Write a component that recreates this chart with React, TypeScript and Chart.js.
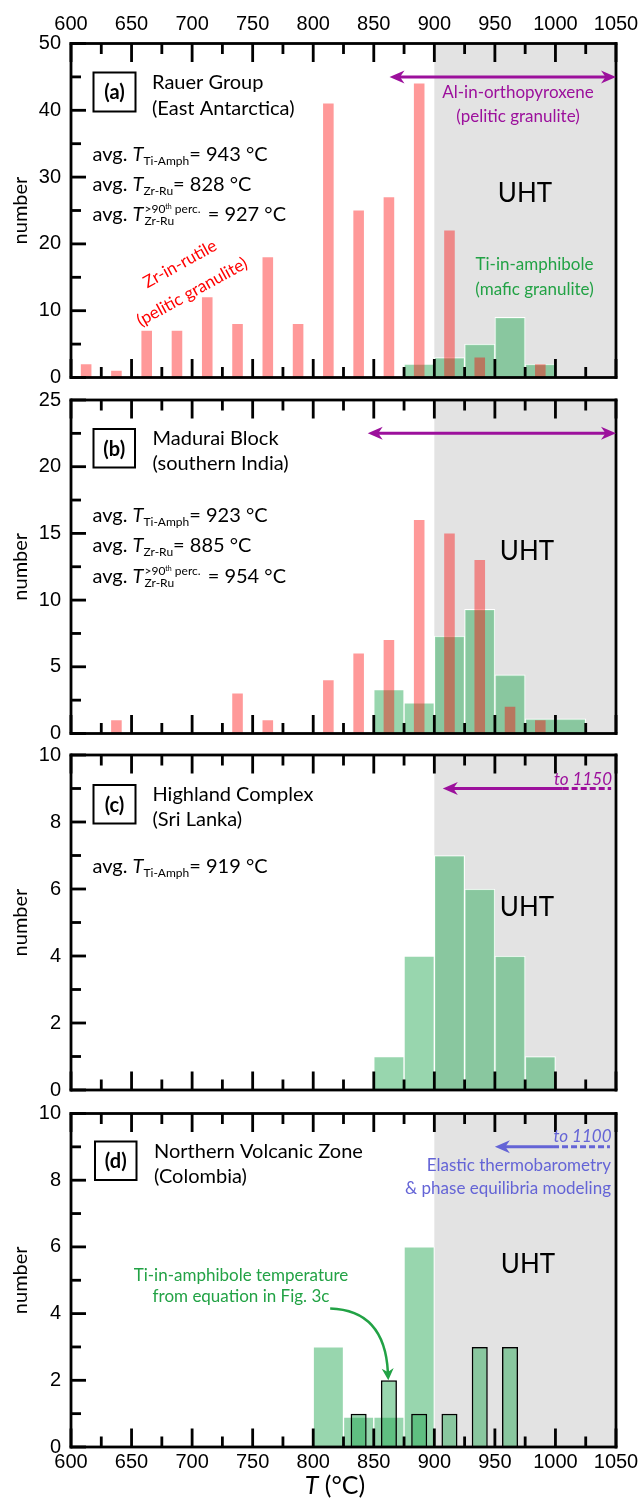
import React, { useEffect, useRef } from 'react';
import { Chart, registerables } from 'chart.js';

Chart.register(...registerables);
Chart.defaults.font.family = '"Liberation Sans", Arial, sans-serif';
Chart.defaults.color = '#000';

// ---------------- shared temperature axis ----------------
const T_MIN = 600;
const T_MAX = 1050;
const T_STEP = 25;
const T_LABEL_STEP = 50;
const UHT_START = 900;

// ---------------- (a) Rauer Group ----------------
const A_ZR_T = [612.5, 637.5, 662.5, 687.5, 712.5, 737.5, 762.5, 787.5, 812.5, 837.5, 862.5, 887.5, 912.5, 937.5, 987.5];
const A_ZR_N = [2, 1, 7, 7, 12, 8, 18, 8, 41, 25, 27, 44, 22, 3, 2];
const A_TI_T = [887.5, 912.5, 937.5, 962.5, 987.5];
const A_TI_N = [2, 3, 5, 9, 2];
const A_OPX_RANGE = [863, 1050];
const A_OPX_LEVEL = 45;
const A_AVG = ['943', '828', '927'];
const A_Y_MAX = 50;
const A_Y_MINOR = 5;
const A_Y_MAJOR = 10;

// ---------------- (b) Madurai Block ----------------
const B_ZR_T = [637.5, 737.5, 762.5, 812.5, 837.5, 862.5, 887.5, 912.5, 937.5, 962.5, 987.5];
const B_ZR_N = [1, 3, 1, 4, 6, 7, 16, 15, 13, 2, 1];
const B_TI_T = [862.5, 887.5, 912.5, 937.5, 962.5, 987.5, 1012.5];
const B_TI_N = [3.3, 2.3, 7.3, 9.3, 4.4, 1.1, 1.1];
const B_OPX_RANGE = [845, 1050];
const B_OPX_LEVEL = 22.5;
const B_AVG = ['923', '885', '954'];
const B_Y_MAX = 25;
const B_Y_MINOR = 2.5;
const B_Y_MAJOR = 5;

// ---------------- (c) Highland Complex ----------------
const C_TI_T = [862.5, 887.5, 912.5, 937.5, 962.5, 987.5];
const C_TI_N = [1, 4, 7, 6, 4, 1];
const C_ARROW = [907, 1006, 1046]; // head, end of solid part, end of dashed part
const C_ARROW_LEVEL = 9;
const C_AVG = ['919'];
const C_Y_MAX = 10;
const C_Y_MINOR = 1;
const C_Y_MAJOR = 2;

// ---------------- (d) Northern Volcanic Zone ----------------
const D_TI_T = [812.5, 837.5, 862.5, 887.5];
const D_TI_N = [3, 0.9, 0.9, 6];
const D_EQ_T = [837.5, 862.5, 887.5, 912.5, 937.5, 962.5];
const D_EQ_N = [1, 2, 1, 1, 3, 3];
const D_ARROW = [950, 998, 1045];
const D_ARROW_LEVEL = 9;
const D_NOTE_FROM = [814, 4.15];
const D_NOTE_CTRL = [859, 4.1];
const D_NOTE_TO = [862, 2.0];
const D_Y_MAX = 10;
const D_Y_MINOR = 1;
const D_Y_MAJOR = 2;

// ---------------- styles ----------------
const RED_FILL = 'rgba(255,0,0,0.4)';
const GREEN_FILL = 'rgba(27,164,75,0.45)';
const UHT_FILL = '#e3e3e3';
const PURPLE = '#9c109c';
const BLUE = '#6464d6';
const GREEN_TEXT = '#22a245';
const RED_TEXT = '#ff0000';
const TICK_COLOR = '#000000';
const LATO = 'Lato, "Open Sans", sans-serif';
const TICK_FONT = '"Liberation Sans", Arial, sans-serif';
const font = (size: number, pre = '') => `${pre ? pre + ' ' : ''}${size}px ${LATO}`;

const pts = (xs: number[], ys: number[]) => xs.map((x, i) => ({ x, y: ys[i] }));

function redSet(xs: number[], ys: number[]) {
  return {
    data: pts(xs, ys), backgroundColor: RED_FILL, borderWidth: 0,
    barPercentage: 0.35, categoryPercentage: 1, grouped: false, order: 0,
  };
}
function greenSet(xs: number[], ys: number[]) {
  return {
    data: pts(xs, ys), backgroundColor: GREEN_FILL, borderColor: '#ffffff', borderWidth: 1,
    barPercentage: 1, categoryPercentage: 1, grouped: false, order: 1,
  };
}
function outlinedSet(xs: number[], ys: number[]) {
  return {
    data: pts(xs, ys), backgroundColor: GREEN_FILL, borderColor: '#000000', borderWidth: 1.5,
    barPercentage: 0.53, categoryPercentage: 1, grouped: false, order: 0,
  };
}

// ---------------- drawing helpers ----------------
function tag(ctx: any, label: string, x: number, y: number, w: number, h: number) {
  ctx.lineWidth = 2;
  ctx.strokeStyle = '#000';
  ctx.strokeRect(x, y, w, h);
  ctx.font = font(20, 'bold');
  ctx.fillStyle = '#000';
  ctx.textAlign = 'center';
  ctx.textBaseline = 'middle';
  ctx.fillText(label, x + w / 2, y + h / 2 + 1);
}
function lines(ctx: any, texts: string[], x: number, bases: number[], size = 20, color = '#000', align = 'left', pre = '') {
  ctx.font = font(size, pre);
  ctx.fillStyle = color;
  ctx.textAlign = align;
  ctx.textBaseline = 'alphabetic';
  texts.forEach((t, i) => ctx.fillText(t, x, bases[i]));
}
type Run = { t: string; s: number; pre?: string; dy?: number };
function runs(ctx: any, x: number, y: number, rs: Run[]) {
  let cx = x;
  ctx.textAlign = 'left';
  ctx.textBaseline = 'alphabetic';
  ctx.fillStyle = '#000';
  for (const r of rs) {
    ctx.font = font(r.s, r.pre || '');
    ctx.fillText(r.t, cx, y + (r.dy || 0));
    cx += ctx.measureText(r.t).width;
  }
  return cx;
}
function avgLines(ctx: any, x: number, bases: number[], vals: string[]) {
  const subs = ['Ti-Amph', 'Zr-Ru', 'Zr-Ru'];
  vals.forEach((v, i) => {
    const y = bases[i];
    let cx = runs(ctx, x, y, [{ t: 'avg. ', s: 20 }, { t: 'T', s: 20, pre: 'italic' }]);
    if (i < 2) {
      cx = runs(ctx, cx, y, [{ t: subs[i], s: 12, dy: 4 }]);
      runs(ctx, cx, y, [{ t: '= ' + v + ' °C', s: 20 }]);
    } else {
      const e1 = runs(ctx, cx + 1, y, [{ t: '>90', s: 12, dy: -8 }, { t: 'th', s: 7, dy: -12 }, { t: ' perc.', s: 12, dy: -8 }]);
      const e2 = runs(ctx, cx + 1, y, [{ t: subs[i], s: 12, dy: 4 }]);
      runs(ctx, Math.max(e1, e2) + 2, y, [{ t: ' = ' + v + ' °C', s: 20 }]);
    }
  });
}
function uht(ctx: any, cx: number, base: number) {
  lines(ctx, ['UHT'], cx, [base], 26, '#000', 'center');
}
function head(ctx: any, tx: number, ty: number, dx: number, dy: number, len = 15, half = 6.5) {
  const n = Math.hypot(dx, dy);
  const ux = dx / n, uy = dy / n;
  const bx = tx - ux * len, by = ty - uy * len;
  const px = -uy, py = ux;
  ctx.beginPath();
  ctx.moveTo(tx, ty);
  ctx.lineTo(bx + px * half, by + py * half);
  ctx.lineTo(tx - ux * len * 0.7, ty - uy * len * 0.7);
  ctx.lineTo(bx - px * half, by - py * half);
  ctx.closePath();
  ctx.fill();
}
function doubleArrow(ctx: any, x1: number, x2: number, y: number, color: string) {
  ctx.strokeStyle = color;
  ctx.fillStyle = color;
  ctx.lineWidth = 3;
  ctx.setLineDash([]);
  ctx.beginPath();
  ctx.moveTo(x1 + 8, y);
  ctx.lineTo(x2 - 8, y);
  ctx.stroke();
  head(ctx, x1, y, -1, 0);
  head(ctx, x2, y, 1, 0);
}
function leftArrow(ctx: any, xh: number, xs: number, xd: number, y: number, color: string) {
  ctx.strokeStyle = color;
  ctx.fillStyle = color;
  ctx.lineWidth = 3;
  ctx.setLineDash([]);
  ctx.beginPath();
  ctx.moveTo(xh + 8, y);
  ctx.lineTo(xs, y);
  ctx.stroke();
  ctx.setLineDash([6, 3]);
  ctx.beginPath();
  ctx.moveTo(xs, y);
  ctx.lineTo(xd, y);
  ctx.stroke();
  ctx.setLineDash([]);
  head(ctx, xh, y, -1, 0);
}
function rotated(ctx: any, text: string, cx: number, cy: number, deg: number, size: number, color: string) {
  ctx.save();
  ctx.translate(cx, cy);
  ctx.rotate((deg * Math.PI) / 180);
  ctx.font = font(size);
  ctx.fillStyle = color;
  ctx.textAlign = 'center';
  ctx.textBaseline = 'middle';
  ctx.fillText(text, 0, 0);
  ctx.restore();
}

// ---------------- panel annotations ----------------
function annotateA(ctx: any, chart: any, Y: (v: number) => number) {
  const { x, y } = chart.scales;
  tag(ctx, '(a)', 93.5, Y(72.5), 42, 39);
  lines(ctx, ['Rauer Group', '(East Antarctica)'], 152, [Y(88.5), Y(114.5)]);
  avgLines(ctx, 92.5, [Y(161), Y(191), Y(220.5)], A_AVG);
  uht(ctx, 525, Y(202));
  rotated(ctx, 'Zr-in-rutile', 180, Y(264), -29, 17, RED_TEXT);
  rotated(ctx, '(pelitic granulite)', 192, Y(292), -29, 17, RED_TEXT);
  lines(ctx, ['Ti-in-amphibole', '(mafic granulite)'], 534.5, [Y(270), Y(295)], 17, GREEN_TEXT, 'center');
  lines(ctx, ['Al-in-orthopyroxene', '(pelitic granulite)'], 518, [Y(98), Y(121.5)], 17, PURPLE, 'center');
  doubleArrow(ctx, x.getPixelForValue(A_OPX_RANGE[0]), x.getPixelForValue(A_OPX_RANGE[1]), y.getPixelForValue(A_OPX_LEVEL), PURPLE);
}
function annotateB(ctx: any, chart: any, Y: (v: number) => number) {
  const { x, y } = chart.scales;
  tag(ctx, '(b)', 93.5, Y(429), 41.5, 38.5);
  lines(ctx, ['Madurai Block', '(southern India)'], 152.5, [Y(445), Y(470)]);
  avgLines(ctx, 92.5, [Y(521.5), Y(552), Y(582.5)], B_AVG);
  uht(ctx, 527, Y(559.5));
  doubleArrow(ctx, x.getPixelForValue(B_OPX_RANGE[0]), x.getPixelForValue(B_OPX_RANGE[1]), y.getPixelForValue(B_OPX_LEVEL), PURPLE);
}
function annotateC(ctx: any, chart: any, Y: (v: number) => number) {
  const { x, y } = chart.scales;
  tag(ctx, '(c)', 93.5, Y(785), 42, 38.5);
  lines(ctx, ['Highland Complex', '(Sri Lanka)'], 152.5, [Y(800.5), Y(825.5)]);
  avgLines(ctx, 92.5, [Y(872.5)], C_AVG);
  uht(ctx, 527, Y(915.5));
  leftArrow(ctx, x.getPixelForValue(C_ARROW[0]), x.getPixelForValue(C_ARROW[1]), x.getPixelForValue(C_ARROW[2]), y.getPixelForValue(C_ARROW_LEVEL), PURPLE);
  lines(ctx, ['to 1150'], 612, [Y(785)], 17, PURPLE, 'right', 'italic');
}
function annotateD(ctx: any, chart: any, Y: (v: number) => number) {
  const { x, y } = chart.scales;
  tag(ctx, '(d)', 95, Y(1141.5), 41.5, 38.5);
  lines(ctx, ['Northern Volcanic Zone', '(Colombia)'], 154, [Y(1158), Y(1183)]);
  uht(ctx, 528, Y(1272.5));
  leftArrow(ctx, x.getPixelForValue(D_ARROW[0]), x.getPixelForValue(D_ARROW[1]), x.getPixelForValue(D_ARROW[2]), y.getPixelForValue(D_ARROW_LEVEL), BLUE);
  lines(ctx, ['to 1100'], 611.5, [Y(1141.5)], 17, BLUE, 'right', 'italic');
  lines(ctx, ['Elastic thermobarometry', '& phase equilibria modeling'], 611, [Y(1171), Y(1193.5)], 17, BLUE, 'right');
  lines(ctx, ['Ti-in-amphibole temperature', 'from equation in Fig. 3c'], 241, [Y(1280.5), Y(1302)], 17, GREEN_TEXT, 'center');
  // curved pointer
  const p0 = [x.getPixelForValue(D_NOTE_FROM[0]), y.getPixelForValue(D_NOTE_FROM[1])];
  const pc = [x.getPixelForValue(D_NOTE_CTRL[0]), y.getPixelForValue(D_NOTE_CTRL[1])];
  const p2 = [x.getPixelForValue(D_NOTE_TO[0]), y.getPixelForValue(D_NOTE_TO[1])];
  const dx = p2[0] - pc[0], dy = p2[1] - pc[1];
  const n = Math.hypot(dx, dy);
  const end = [p2[0] - (dx / n) * 8, p2[1] - (dy / n) * 8];
  ctx.strokeStyle = GREEN_TEXT;
  ctx.fillStyle = GREEN_TEXT;
  ctx.lineWidth = 2.5;
  ctx.beginPath();
  ctx.moveTo(p0[0], p0[1]);
  ctx.quadraticCurveTo(pc[0], pc[1], end[0], end[1]);
  ctx.stroke();
  head(ctx, p2[0], p2[1], dx, dy, 12, 6);
  // x-axis title
  const base = Y(1494);
  ctx.font = font(25, 'italic');
  const wT = ctx.measureText('T').width;
  ctx.font = font(25);
  const wR = ctx.measureText(' (°C)').width;
  const sx = 335 - (wT + wR) / 2;
  runs(ctx, sx, base, [{ t: 'T', s: 25, pre: 'italic' }, { t: ' (°C)', s: 25 }]);
}

// ---------------- panel specs ----------------
type Spec = {
  key: string; top: number; height: number; padding: any;
  xPos: string; xLabels: boolean; xAxisH: number; xGap: number;
  yMax: number; yMinor: number; yMajor: number; datasets: any[]; annotate: any;
};

const SPECS: Spec[] = [
  {
    key: 'a', top: 0, height: 392, padding: { left: 0, right: 28, top: 0, bottom: 14.5 },
    xPos: 'top', xLabels: true, xAxisH: 43.5, xGap: 7.5,
    yMax: A_Y_MAX, yMinor: A_Y_MINOR, yMajor: A_Y_MAJOR,
    datasets: [redSet(A_ZR_T, A_ZR_N), greenSet(A_TI_T, A_TI_N)], annotate: annotateA,
  },
  {
    key: 'b', top: 384, height: 366, padding: { left: 0, right: 28, top: 16, bottom: 16.5 },
    xPos: 'bottom', xLabels: false, xAxisH: 0, xGap: 0,
    yMax: B_Y_MAX, yMinor: B_Y_MINOR, yMajor: B_Y_MAJOR,
    datasets: [redSet(B_ZR_T, B_ZR_N), greenSet(B_TI_T, B_TI_N)], annotate: annotateB,
  },
  {
    key: 'c', top: 739, height: 367, padding: { left: 0, right: 28, top: 16, bottom: 16 },
    xPos: 'bottom', xLabels: false, xAxisH: 0, xGap: 0,
    yMax: C_Y_MAX, yMinor: C_Y_MINOR, yMajor: C_Y_MAJOR,
    datasets: [greenSet(C_TI_T, C_TI_N)], annotate: annotateC,
  },
  {
    key: 'd', top: 1097, height: 404, padding: { left: 0, right: 28, top: 16.5, bottom: 0 },
    xPos: 'bottom', xLabels: true, xAxisH: 54, xGap: 3,
    yMax: D_Y_MAX, yMinor: D_Y_MINOR, yMajor: D_Y_MAJOR,
    datasets: [outlinedSet(D_EQ_T, D_EQ_N), greenSet(D_TI_T, D_TI_N)], annotate: annotateD,
  },
];

const isMultiple = (v: number, step: number) => {
  const r = v / step;
  return Math.abs(r - Math.round(r)) < 1e-6;
};

function decor(spec: Spec) {
  return {
    id: 'decor_' + spec.key,
    beforeDatasetsDraw(chart: any) {
      const { ctx, chartArea: a, scales } = chart;
      const x0 = scales.x.getPixelForValue(UHT_START);
      ctx.save();
      ctx.fillStyle = UHT_FILL;
      ctx.fillRect(x0, a.top, a.right - x0, a.bottom - a.top);
      ctx.restore();
    },
    afterDraw(chart: any) {
      const { ctx, chartArea: a, scales } = chart;
      const xs = scales.x;
      const ys = scales.y;
      const W = 2.8;
      ctx.save();
      ctx.fillStyle = TICK_COLOR;
      // x tick marks (top and bottom, pointing inward)
      for (let t = T_MIN; t <= T_MAX + 1e-9; t += T_STEP) {
        const px = xs.getPixelForValue(t);
        const len = isMultiple(t, T_LABEL_STEP) ? 18.5 : 10.5;
        ctx.fillRect(px - W / 2, a.top, W, len);
        ctx.fillRect(px - W / 2, a.bottom - len, W, len);
      }
      // y tick marks (left, pointing inward)
      for (let v = 0; v <= spec.yMax + 1e-9; v += spec.yMinor) {
        const py = ys.getPixelForValue(v);
        const len = isMultiple(v, spec.yMajor) ? 15 : 10;
        ctx.fillRect(a.left, py - W / 2, len, W);
      }
      // frame
      ctx.fillStyle = '#000000';
      ctx.fillRect(a.left - W / 2, a.top - W / 2, a.right - a.left + W, W);
      ctx.fillRect(a.left - W / 2, a.bottom - W / 2, a.right - a.left + W, W);
      ctx.fillRect(a.left - W / 2, a.top - W / 2, W, a.bottom - a.top + W);
      ctx.fillRect(a.right - W / 2, a.top - W / 2, W, a.bottom - a.top + W);
      ctx.restore();
      ctx.save();
      spec.annotate(ctx, chart, (v: number) => v - spec.top);
      ctx.restore();
    },
  };
}

function buildConfig(spec: Spec): any {
  return {
    type: 'bar',
    data: { datasets: spec.datasets },
    plugins: [decor(spec)],
    options: {
      responsive: false,
      animation: false,
      events: [],
      layout: { padding: spec.padding },
      plugins: { legend: { display: false }, tooltip: { enabled: false } },
      scales: {
        x: {
          type: 'linear',
          position: spec.xPos,
          min: T_MIN,
          max: T_MAX,
          offset: false,
          grid: { display: false, drawTicks: true, tickLength: spec.xGap },
          border: { display: false },
          ticks: {
            display: spec.xLabels,
            stepSize: T_STEP,
            autoSkip: false,
            maxRotation: 0,
            minRotation: 0,
            padding: 0,
            color: '#000',
            font: { family: TICK_FONT, size: 20 },
            callback: (v: number) => (isMultiple(v, T_LABEL_STEP) ? String(v) : ''),
          },
          afterFit: (s: any) => { s.height = spec.xAxisH; },
        },
        y: {
          type: 'linear',
          position: 'left',
          min: 0,
          max: spec.yMax,
          grid: { display: false, drawTicks: true, tickLength: 10 },
          border: { display: false },
          title: {
            display: true,
            text: 'number',
            color: '#000',
            font: { family: LATO, size: 20 },
            padding: { top: 8.5, bottom: 0 },
          },
          ticks: {
            stepSize: spec.yMinor,
            autoSkip: false,
            padding: 0,
            color: '#000',
            font: { family: TICK_FONT, size: 20 },
            callback: (v: number) => (isMultiple(v, spec.yMajor) ? String(v) : ''),
          },
          afterFit: (s: any) => { s.width = 71; },
        },
      },
    },
  };
}

function Panel({ spec }: { spec: Spec }) {
  const ref = useRef<HTMLCanvasElement>(null);
  useEffect(() => {
    const chart = new Chart(ref.current as HTMLCanvasElement, buildConfig(spec));
    return () => chart.destroy();
  }, [spec]);
  return (
    <canvas
      ref={ref}
      width={644}
      height={spec.height}
      style={{ position: 'absolute', left: 0, top: spec.top, width: 644, height: spec.height }}
    />
  );
}

export default function App() {
  return (
    <div style={{ position: 'absolute', left: 0, top: 0, width: 644, height: 1501, background: '#fff', overflow: 'hidden' }}>
      {SPECS.map((s) => (
        <Panel key={s.key} spec={s} />
      ))}
    </div>
  );
}
